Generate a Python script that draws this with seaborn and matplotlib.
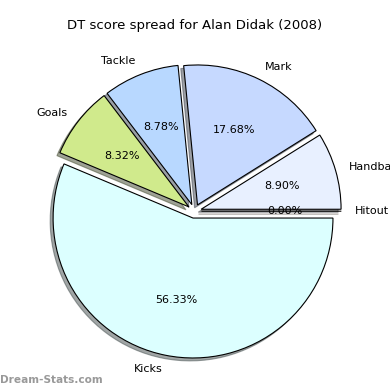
import matplotlib
matplotlib.use("Agg")
import matplotlib.pyplot as plt
import seaborn as sns

# DT score spread (percent of total)
categories = ['Hitout', 'Handball', 'Mark', 'Tackle', 'Goals', 'Kicks']
shares = [0.00, 8.90, 17.68, 8.78, 8.32, 56.33]
colors = ['#ffe0c0', '#e8f0ff', '#c6d9ff', '#b8d8ff', '#d0ea8c', '#dcffff']
explode = [0.05] * len(categories)

sns.set_theme(style="white")
plt.rcParams['font.family'] = ['DejaVu Sans']

total = sum(shares)

fig = plt.figure(figsize=(3.9, 3.9), dpi=100)
ax = fig.add_axes([0.05, 0.01, 0.897, 0.897])
ax.pie(shares, labels=categories, colors=colors, explode=explode,
       autopct=lambda p: f"{p * total / 100:.2f}%",
       shadow={'ox': -0.015, 'oy': -0.015},
       wedgeprops=dict(edgecolor='black', linewidth=0.8),
       textprops=dict(fontsize=8, color='black'))
ax.set_aspect('equal')

fig.text(0.5, 0.935, 'DT score spread for Alan Didak (2008)', ha='center',
         va='center', fontsize=9.5, color='black')
fig.text(0.0, 0.025, 'Dream-Stats.com', ha='left', va='center', fontsize=7.6,
         color='#999999', fontweight='bold')

fig.savefig('out.png', dpi=100)
